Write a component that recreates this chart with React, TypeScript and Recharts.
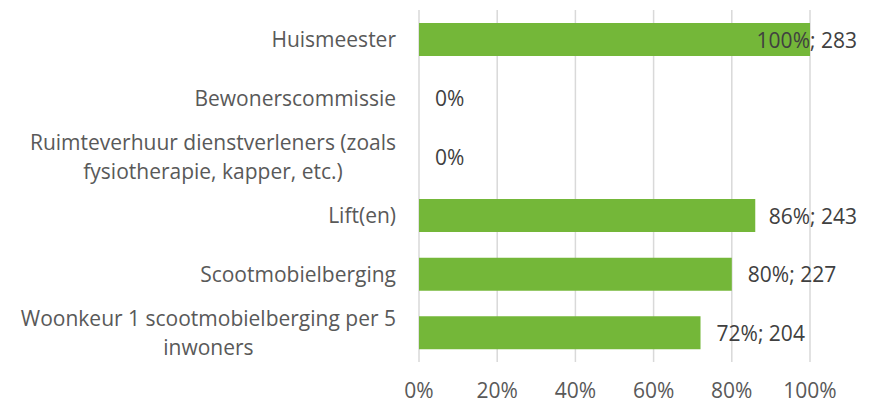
import { BarChart, Bar, XAxis, YAxis, CartesianGrid, LabelList, Rectangle } from 'recharts';

const categories = [
  'Huismeester',
  'Bewonerscommissie',
  'Ruimteverhuur dienstverleners (zoals fysiotherapie, kapper, etc.)',
  'Lift(en)',
  'Scootmobielberging',
  'Woonkeur 1 scootmobielberging per 5 inwoners',
];
const shares = [1, 0, 0, 0.86, 0.8, 0.72];
const counts = [283, 0, 0, 243, 227, 204];
const xTicks = [0, 0.2, 0.4, 0.6, 0.8, 1];

const chartData = categories.map((name, i) => ({ name, share: shares[i], count: counts[i] }));

const FONT = '"Open Sans", "Noto Sans", sans-serif';
const FONT_SIZE = 21;
const GREEN = '#74B739';

let ctx: CanvasRenderingContext2D | null = null;
function textWidth(s: string) {
  if (!ctx) ctx = document.createElement('canvas').getContext('2d');
  if (!ctx) return s.length * FONT_SIZE * 0.5;
  ctx.font = `${FONT_SIZE}px ${FONT}`;
  return ctx.measureText(s).width;
}

function wrap(label: string, maxWidth: number) {
  const words = label.split(' ');
  const lines: string[] = [];
  let cur = '';
  for (const w of words) {
    const next = cur ? cur + ' ' + w : w;
    if (cur && textWidth(next) > maxWidth) {
      lines.push(cur);
      cur = w;
    } else {
      cur = next;
    }
  }
  if (cur) lines.push(cur);
  return lines;
}

function CategoryTick(props: any) {
  const { x, y, payload } = props;
  const lines = wrap(payload.value, 385);
  const lh = 29;
  const right = x - 15;
  const widest = Math.max(...lines.map(textWidth));
  const cx = right - widest / 2;
  const top = y - ((lines.length - 1) * lh) / 2;
  return (
    <g>
      {lines.map((l, i) => (
        <text
          key={i}
          x={cx}
          y={top + i * lh}
          textAnchor="middle"
          dominantBaseline="central"
          fill="#595959"
          fontSize={FONT_SIZE}
          fontFamily={FONT}
        >
          {l}
        </text>
      ))}
    </g>
  );
}

// zero bars keep a 1px slot so their label still renders, but draw nothing
function BarShape(props: any) {
  if (!props.payload || props.payload.share === 0) return <g />;
  return <Rectangle {...props} />;
}

function ValueLabel(props: any) {
  const { x, y, width, height, value } = props;
  const i = categories.indexOf(value);
  const s = shares[i];
  const txt = s === 0 ? '0%' : `${Math.round(s * 100)}%; ${counts[i]}`;
  const w = textWidth(txt);
  const barEnd = s === 0 ? x : x + width;
  const tx = Math.min(barEnd + 16, 857 - w);
  return (
    <text
      x={tx}
      y={y + height / 2}
      dominantBaseline="central"
      fill="#404040"
      fontSize={FONT_SIZE}
      fontFamily={FONT}
    >
      {txt}
    </text>
  );
}

export default function App() {
  return (
    <div style={{ position: 'absolute', left: 0, top: 0, background: '#fff' }}>
      <BarChart
        width={875}
        height={403}
        data={chartData}
        layout="vertical"
        margin={{ top: 10, right: 65, left: 0, bottom: 0 }}
        barSize={33}
      >
        <CartesianGrid horizontal={false} stroke="#D9D9D9" strokeWidth={1.5} />
        <XAxis
          type="number"
          domain={[0, 1]}
          ticks={xTicks}
          tickFormatter={(v: number) => `${Math.round(v * 100)}%`}
          axisLine={false}
          tickLine={false}
          height={41}
          tickMargin={15}
          tick={{ fill: '#595959', fontSize: FONT_SIZE, fontFamily: FONT }}
          interval={0}
        />
        <YAxis
          type="category"
          dataKey="name"
          width={419}
          axisLine={false}
          tickLine={false}
          tick={<CategoryTick />}
          interval={0}
        />
        <Bar
          dataKey="share"
          fill={GREEN}
          minPointSize={1}
          shape={<BarShape />}
          isAnimationActive={false}
        >
          <LabelList dataKey="name" content={<ValueLabel />} />
        </Bar>
      </BarChart>
    </div>
  );
}
